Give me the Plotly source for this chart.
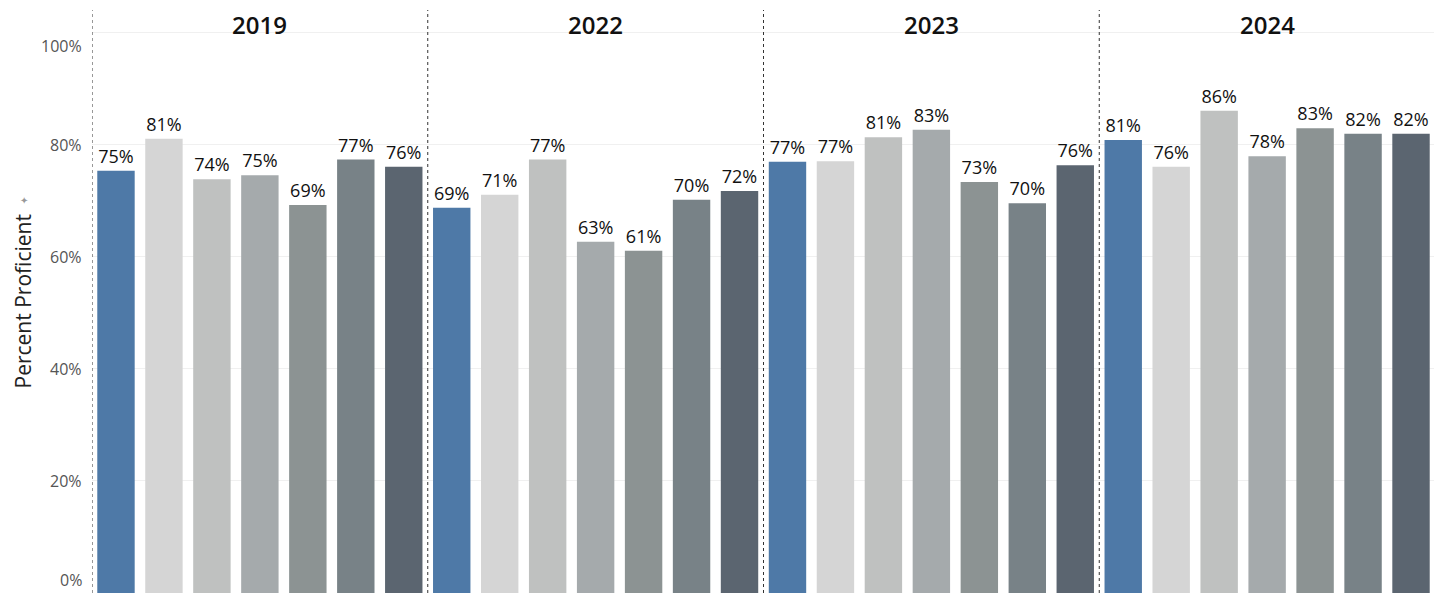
import plotly.graph_objects as go

years = ["2019", "2022", "2023", "2024"]
groups = ["G1", "G2", "G3", "G4", "G5", "G6", "G7"]
values = {
    "2019": [75.4, 81.1, 73.9, 74.6, 69.3, 77.4, 76.1],
    "2022": [68.8, 71.1, 77.4, 62.7, 61.1, 70.2, 71.8],
    "2023": [77.0, 77.1, 81.4, 82.7, 73.4, 69.6, 76.4],
    "2024": [80.9, 76.1, 86.1, 78.0, 83.0, 82.0, 82.0],
}
colors = ["#4E79A7", "#D5D5D5", "#BFC1C0", "#A5AAAC", "#8C9393", "#788287", "#5B6570"]
tick_vals = [0, 20, 40, 60, 80, 100]
tick_text = ["0%", "20%", "40%", "60%", "80%", "100%"]

FONT = "Open Sans"

xcats, yvals, bcolors = [], [], []
for y in years:
    for i, g in enumerate(groups):
        xcats.append(f"{y}-{g}")
        yvals.append(values[y][i])
        bcolors.append(colors[i])

fig = go.Figure()
fig.add_trace(go.Bar(
    x=xcats, y=yvals,
    marker=dict(color=bcolors, line=dict(width=0)),
    texttemplate="%{y:.0f}%", textposition="outside",
    textfont=dict(family=FONT, size=18, color="#111111", weight=500),
    cliponaxis=False, hoverinfo="skip",
))

# page body has an 8px margin; compensate so the chart fills the 1442x593 window
W, H = 1434, 585
ml, mr, mt, mb = 84, 7, 2, 0
n = len(xcats)

fig.update_layout(
    width=W, height=H,
    margin=dict(l=ml, r=mr, t=mt, b=mb),
    plot_bgcolor="white", paper_bgcolor="white",
    bargap=0.22, showlegend=False,
    font=dict(family=FONT),
    xaxis=dict(type="category", range=[-0.5, n - 0.5], showticklabels=False,
               showgrid=False, zeroline=False, showline=False, ticks=""),
    yaxis=dict(range=[0, 104.1], tickvals=tick_vals, showticklabels=False,
               showgrid=True, gridcolor="#F0F0F0", gridwidth=1,
               zeroline=False, showline=False, ticks=""),
)

# y tick labels (Tableau nudges the end labels inward)
for v, t in zip(tick_vals, tick_text):
    shift = 13 if v == 0 else (-13 if v == 100 else 0)
    fig.add_annotation(x=0, xref="paper", xanchor="right", xshift=-8,
                       y=v, yref="y", yanchor="middle", yshift=shift,
                       text=t, showarrow=False,
                       font=dict(family=FONT, size=16, color="#555555"))

# y axis title
fig.add_annotation(x=0, xref="paper", xshift=-70, y=0.5, yref="paper",
                   text="Percent Proficient", textangle=-90, showarrow=False,
                   xanchor="center", yanchor="middle",
                   font=dict(family=FONT, size=21, color="#222222"))
fig.add_annotation(x=0, xref="paper", xshift=-74, y=0.5, yref="paper", yshift=101,
                   text="✦", showarrow=False,
                   font=dict(family="DejaVu Sans", size=10, color="#999999"))

# panel separators and headers
ng = len(groups)
for k, y in enumerate(years):
    x0 = k * ng - 0.5
    fig.add_shape(type="line", xref="x", yref="paper", x0=x0, x1=x0, y0=0, y1=1,
                  line=dict(color="#333333", width=1, dash="dot"))
    fig.add_annotation(x=k * ng + (ng - 1) / 2, xref="x", y=1, yref="paper",
                       yanchor="middle", yshift=-14, text=y, showarrow=False,
                       font=dict(family=FONT, size=24, color="#111111", weight=600))
fig.add_shape(type="line", xref="x", yref="paper", x0=n - 0.5, x1=n - 0.5, y0=0, y1=1,
              line=dict(color="#333333", width=1, dash="dot"))

fig.write_html("out.html")
